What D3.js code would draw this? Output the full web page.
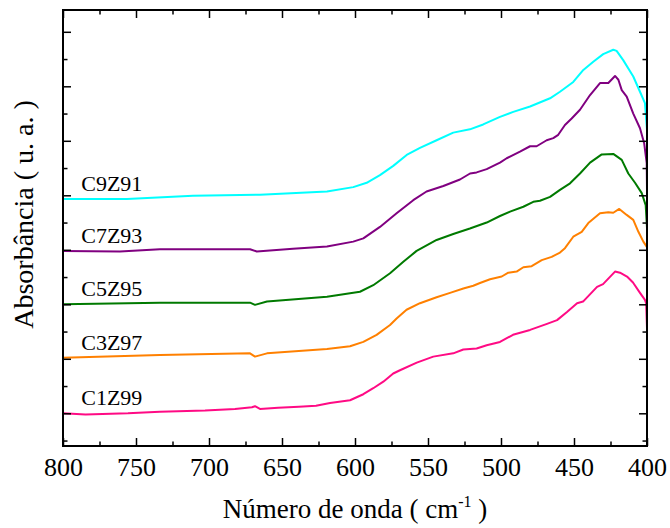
<!DOCTYPE html>
<html>
<head>
<meta charset="utf-8">
<script src="https://cdn.jsdelivr.net/npm/d3@7"></script>
<style>
  html, body { margin: 0; padding: 0; background: #fff; }
  svg { display: block; }
  text { font-family: "Liberation Serif", "Times New Roman", serif; fill: #000; }
</style>
</head>
<body>
<div id="chart"></div>
<script>
// FTIR spectra, 800–400 cm-1, curves offset vertically (arbitrary units)
const xTicksMajor = [800, 750, 700, 650, 600, 550, 500, 450, 400];

const c1z99_wn  = [800, 784.6, 755.5, 733.6, 702.7, 682.2, 670.6, 668.5, 665.1, 652.7, 638.4, 626.7, 617.1, 603.4, 594.3, 587.5, 580.6, 573.8, 569.2, 557.7, 546.4, 532.7, 525.8, 516.7, 509.8, 500.7, 491.8, 480.1, 468.5, 461.6, 454.8, 447.9, 443.8, 434.2, 430.1, 421.9, 418.5, 413.7, 409.6, 404.8, 401.4, 400.6, 400];
const c1z99_abs = [0.0, -0.2, 0.0, 0.3, 0.5, 0.8, 1.1, 1.3, 0.8, 1.0, 1.2, 1.4, 1.9, 2.4, 3.5, 4.6, 5.8, 7.3, 7.9, 9.3, 10.4, 11.0, 11.7, 11.9, 12.5, 13.1, 14.4, 15.3, 16.4, 17.1, 18.6, 20.2, 20.5, 23.2, 23.7, 26.0, 25.8, 25.1, 24.0, 22.1, 20.8, 20.2, 15.6];

const c3z97_wn  = [800, 733.6, 671.9, 668.5, 660.3, 619.2, 603.4, 594.3, 585.2, 576.0, 571.5, 564.7, 555.5, 544.1, 534.9, 525.8, 519.0, 514.4, 507.5, 499.5, 495.0, 489.3, 484.7, 479.0, 472.1, 465.3, 459.6, 456.2, 450.5, 444.7, 440.2, 432.2, 426.5, 423.1, 419.0, 413.9, 409.4, 405.9, 402.5, 400];
const c3z97_abs = [10.2, 10.7, 11.0, 10.4, 11.0, 11.8, 12.3, 13.1, 14.4, 16.2, 17.4, 19.0, 20.2, 21.3, 22.1, 22.9, 23.4, 23.9, 24.6, 25.1, 25.8, 26.0, 26.8, 27.0, 28.1, 28.7, 29.5, 30.3, 32.4, 33.3, 34.9, 36.7, 36.9, 36.8, 37.5, 36.4, 35.5, 33.3, 31.5, 30.5];

const c5z95_wn  = [800, 733.6, 671.9, 668.5, 660.3, 619.2, 596.6, 587.5, 576.0, 566.9, 557.8, 544.1, 532.7, 521.3, 509.8, 500.7, 493.8, 484.7, 477.9, 473.3, 466.4, 459.6, 452.7, 445.9, 439.0, 431.0, 423.1, 417.3, 412.8, 408.2, 403.6, 400.9, 400];
const c5z95_abs = [20.0, 20.3, 20.3, 19.9, 20.5, 21.4, 22.3, 23.5, 25.7, 27.8, 29.8, 31.8, 32.9, 33.9, 35.0, 36.2, 37.0, 37.9, 38.8, 39.0, 39.7, 41.0, 42.2, 44.0, 46.0, 47.5, 47.6, 46.5, 44.0, 42.3, 40.4, 38.2, 34.0];

const c7z93_wn  = [800, 761.0, 733.6, 687.7, 671.9, 667.3, 642.5, 619.2, 601.2, 594.3, 582.9, 571.5, 560.1, 551.0, 539.5, 528.1, 521.2, 516.7, 509.8, 500.7, 496.1, 487.0, 480.1, 475.6, 468.7, 464.2, 460.8, 456.2, 451.6, 445.9, 439.0, 432.2, 426.5, 421.9, 419.6, 417.3, 413.9, 409.4, 404.8, 401.9, 400.2, 400];
const c7z93_abs = [29.8, 29.7, 30.1, 30.1, 30.1, 29.7, 30.2, 30.6, 31.5, 32.1, 34.2, 36.7, 39.1, 40.7, 41.7, 42.9, 44.0, 44.2, 44.8, 46.0, 46.8, 48.0, 49.0, 49.0, 50.1, 50.5, 51.1, 52.9, 54.1, 55.7, 58.4, 60.6, 60.6, 61.9, 61.2, 59.3, 58.1, 55.0, 52.3, 49.5, 45.9, 41.0];

const c9z91_wn  = [800, 756.2, 711.0, 665.1, 619.2, 601.2, 592.0, 582.9, 573.8, 564.6, 555.5, 544.1, 532.7, 521.3, 512.2, 500.7, 491.6, 480.1, 466.4, 459.6, 450.5, 443.6, 436.8, 430.0, 423.1, 420.8, 416.3, 409.4, 404.8, 401.4, 400];
const c9z91_abs = [39.3, 39.3, 39.9, 40.1, 40.7, 41.5, 42.3, 43.7, 45.4, 47.4, 48.7, 50.1, 51.5, 52.1, 53.0, 54.4, 55.3, 56.3, 57.8, 59.0, 60.8, 63.0, 64.5, 65.9, 66.7, 66.5, 64.8, 61.8, 59.0, 56.9, 52.0];

const seriesNames  = ["C1Z99", "C3Z97", "C5Z95", "C7Z93", "C9Z91"];
const seriesColors = ["#ff0a84", "#ff8000", "#007a00", "#800080", "#00ffff"];
const seriesWn  = [c1z99_wn, c3z97_wn, c5z95_wn, c7z93_wn, c9z91_wn];
const seriesAbs = [c1z99_abs, c3z97_abs, c5z95_abs, c7z93_abs, c9z91_abs];

const W = 670, H = 528;
const m = { left: 63, right: 23, top: 10, bottom: 82 };
const iw = W - m.left - m.right, ih = H - m.top - m.bottom;

const svg = d3.select("#chart").append("svg").attr("width", W).attr("height", H);
const g = svg.append("g").attr("transform", `translate(${m.left},${m.top})`);

const x = d3.scaleLinear().domain([800, 400]).range([0, iw]);
const y = d3.scaleLinear().domain([-6, 74]).range([ih, 0]);

const minorX = d3.range(775, 400, -50);
const majorY = d3.range(0, 71, 10);
const minorY = d3.range(-5, 70, 10);

g.append("clipPath").attr("id", "plot-clip")
  .append("rect").attr("width", iw).attr("height", ih);

// curves
const line = d3.line().x(d => x(d[0])).y(d => y(d[1]));
const curves = g.append("g").attr("clip-path", "url(#plot-clip)");
seriesNames.forEach((name, i) => {
  const pts = seriesWn[i].map((w, k) => [w, seriesAbs[i][k]]);
  curves.append("path")
    .datum(pts)
    .attr("fill", "none")
    .attr("stroke", seriesColors[i])
    .attr("stroke-width", 2)
    .attr("stroke-linejoin", "round")
    .attr("d", line);
});

// series labels above the flat left ends
seriesNames.forEach((name, i) => {
  g.append("text")
    .attr("x", x(787.5))
    .attr("y", y(seriesAbs[i][0]) - 8)
    .attr("font-size", 22)
    .text(name);
});

// axes with inward ticks on all four sides
function styleAxis(sel) {
  sel.select(".domain").remove();
  sel.selectAll(".tick line").attr("stroke", "#000").attr("stroke-width", 1.5);
}
g.append("g").attr("transform", `translate(0,${ih})`)
  .call(d3.axisBottom(x).tickValues(xTicksMajor).tickSize(-8).tickPadding(12).tickFormat(d3.format("d")))
  .call(styleAxis)
  .call(s => s.selectAll("text").attr("font-size", 26).attr("font-family", "Liberation Serif, Times New Roman, serif"));
g.append("g").attr("transform", `translate(0,${ih})`)
  .call(d3.axisBottom(x).tickValues(minorX).tickSize(-4.5).tickFormat(""))
  .call(styleAxis);
g.append("g")
  .call(d3.axisTop(x).tickValues(xTicksMajor).tickSize(-8).tickFormat(""))
  .call(styleAxis);
g.append("g")
  .call(d3.axisTop(x).tickValues(minorX).tickSize(-4.5).tickFormat(""))
  .call(styleAxis);
g.append("g")
  .call(d3.axisLeft(y).tickValues(majorY).tickSize(-8).tickFormat(""))
  .call(styleAxis);
g.append("g")
  .call(d3.axisLeft(y).tickValues(minorY).tickSize(-4.5).tickFormat(""))
  .call(styleAxis);
g.append("g").attr("transform", `translate(${iw},0)`)
  .call(d3.axisRight(y).tickValues(majorY).tickSize(-8).tickFormat(""))
  .call(styleAxis);
g.append("g").attr("transform", `translate(${iw},0)`)
  .call(d3.axisRight(y).tickValues(minorY).tickSize(-4.5).tickFormat(""))
  .call(styleAxis);

// frame
g.append("rect")
  .attr("width", iw).attr("height", ih)
  .attr("fill", "none").attr("stroke", "#000").attr("stroke-width", 2);

// axis titles
const xt = svg.append("text")
  .attr("x", m.left + iw / 2)
  .attr("y", 518)
  .attr("text-anchor", "middle")
  .attr("font-size", 27);
xt.append("tspan").text("Número de onda ( cm");
xt.append("tspan").attr("font-size", 16).attr("dy", -11).text("-1");
xt.append("tspan").attr("dy", 11).text(" )");

svg.append("text")
  .attr("transform", `translate(33,${(92 + 337) / 2}) rotate(-90)`)
  .attr("text-anchor", "middle")
  .attr("font-size", 28)
  .text("Absorbância ( u. a. )");
</script>
</body>
</html>
